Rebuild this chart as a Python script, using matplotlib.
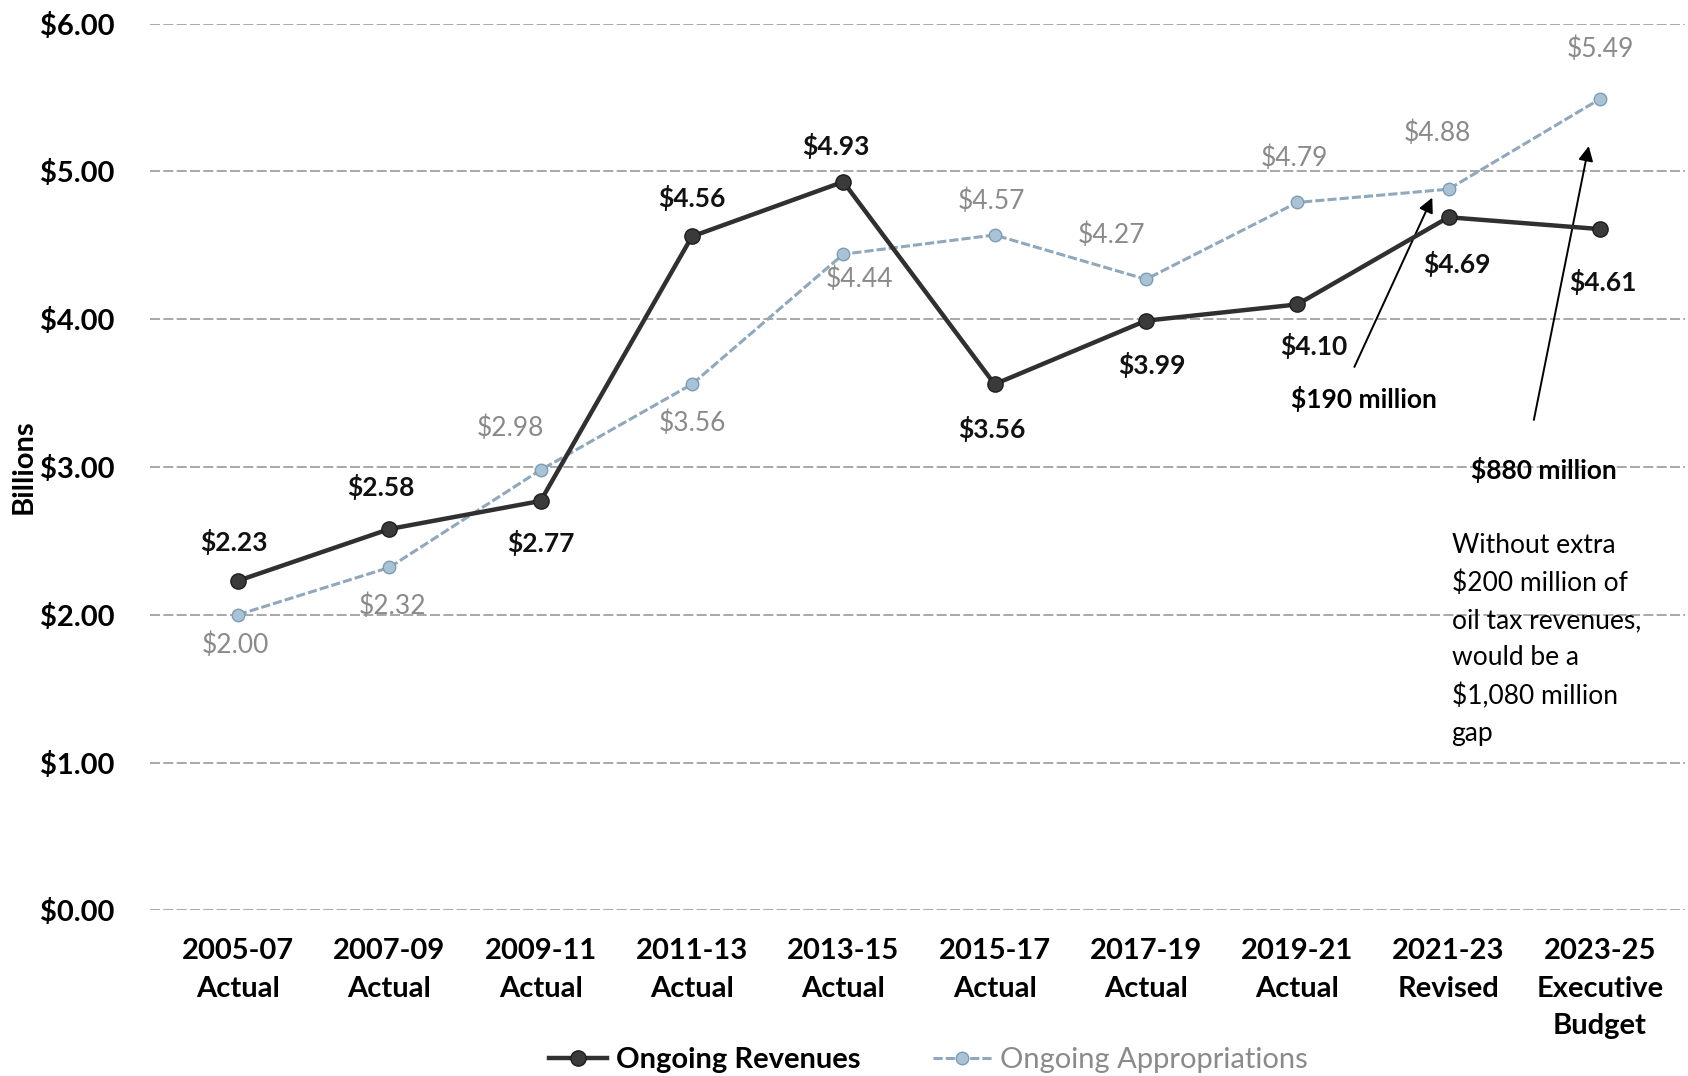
import matplotlib.pyplot as plt

plt.rcParams['font.family'] = ['Lato', 'DejaVu Sans']

periods = ['2005-07\nActual', '2007-09\nActual', '2009-11\nActual', '2011-13\nActual',
           '2013-15\nActual', '2015-17\nActual', '2017-19\nActual', '2019-21\nActual',
           '2021-23\nRevised', '2023-25\nExecutive\nBudget']
revenues = [2.23, 2.58, 2.77, 4.56, 4.93, 3.56, 3.99, 4.10, 4.69, 4.61]
appropriations = [2.00, 2.32, 2.98, 3.56, 4.44, 4.57, 4.27, 4.79, 4.88, 5.49]
yticks = [0, 1, 2, 3, 4, 5, 6]

rev_color = '#303030'
app_color = '#8fa8bd'

# label offsets in points (dx, dy)
rev_off = [(-3, 28), (-6, 30), (0, -30), (0, 28), (-5, 26), (-2, -32), (4, -32), (12, -30), (6, -34), (2, -38)]
app_off = [(-2, -22), (2, -28), (-22, 30), (0, -28), (12, -18), (-2, 24), (-25, 32), (-2, 32), (-8, 40), (0, 36)]

fig = plt.figure(figsize=(16.88, 10.76), dpi=100)
ax = fig.add_axes([0.089, 0.154, 0.909, 0.824])

x = list(range(len(periods)))
ax.plot(x, appropriations, color=app_color, lw=2.2, ls=(0, (3, 1)), marker='o', ms=9,
        mfc='#a9c3d6', mec='#7f9cb3', label='Ongoing Appropriations', zorder=3)
ax.plot(x, revenues, color=rev_color, lw=3.2, marker='o', ms=11,
        mfc='#3a3a3a', mec='#1e1e1e', label='Ongoing Revenues', zorder=4)

for i, v in enumerate(revenues):
    ax.annotate(f'${v:.2f}', (i, v), xytext=rev_off[i], textcoords='offset points',
                ha='center', va='center', fontsize=19, fontweight='bold', color='#111111')
for i, v in enumerate(appropriations):
    ax.annotate(f'${v:.2f}', (i, v), xytext=app_off[i], textcoords='offset points',
                ha='center', va='center', fontsize=19, color='#8a8a8a')

ax.set_xlim(-0.58, 9.56)
ax.set_ylim(0, 6)
ax.set_yticks(yticks)
ax.set_yticklabels([f'${t:.2f}' for t in yticks], fontsize=21, fontweight='bold')
ax.set_xticks(x)
ax.set_xticklabels(periods, fontsize=21, fontweight='bold', linespacing=1.55)
ax.tick_params(axis='x', length=0, pad=20)
ax.tick_params(axis='y', length=0, pad=26)
ax.grid(axis='y', color='#9a9a9a', lw=1.2, ls=(0, (6, 2)))
for s in ax.spines.values():
    s.set_visible(False)
ax.set_ylabel('Billions', fontsize=21, fontweight='bold')
ax.yaxis.set_label_coords(-0.074, 0.5)

# gap annotations
ax.annotate('', xy=(7.9, 4.84), xytext=(7.37, 3.66),
            arrowprops=dict(arrowstyle='-|>', color='black', lw=1.4, mutation_scale=22))
ax.text(7.44, 3.46, '$190 million', ha='center', va='center', fontsize=19, fontweight='bold')
ax.annotate('', xy=(8.93, 5.19), xytext=(8.56, 3.30),
            arrowprops=dict(arrowstyle='-|>', color='black', lw=1.4, mutation_scale=22))
ax.text(8.63, 2.98, '$880 million', ha='center', va='center', fontsize=19, fontweight='bold')
ax.text(8.02, 2.55, 'Without extra\n$200 million of\noil tax revenues,\nwould be a\n$1,080 million\ngap',
        ha='left', va='top', fontsize=19, linespacing=1.6)

handles, labels = ax.get_legend_handles_labels()
leg = fig.legend(handles[::-1], labels[::-1], loc='lower center', bbox_to_anchor=(0.55, -0.022),
                 ncol=2, frameon=False, fontsize=21, handlelength=2.0, handletextpad=0.3,
                 columnspacing=2.5)
leg.get_texts()[0].set_fontweight('bold')
leg.get_texts()[1].set_color('#8a8a8a')

fig.savefig('out.png', dpi=100)
